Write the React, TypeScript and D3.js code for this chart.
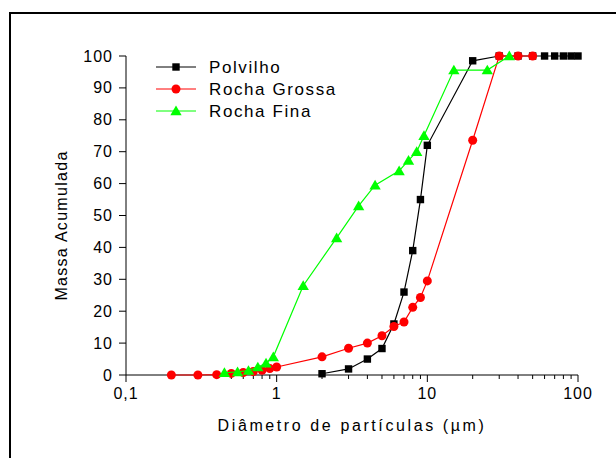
import React from "react";
import * as d3 from "d3";

// Cumulative mass (%) versus particle diameter (µm)
const polvilhoX = [2, 3, 4, 5, 6, 7, 8, 9, 10, 20, 30, 40, 50, 60, 70, 80, 90, 100];
const polvilhoY = [0.4, 1.9, 5, 8.3, 16, 26, 39, 55, 72, 98.5, 100, 100, 100, 100, 100, 100, 100, 100];

const grossaX = [0.2, 0.3, 0.4, 0.5, 0.6, 0.7, 0.8, 0.9, 1, 2, 3, 4, 5, 6, 7, 8, 9, 10, 20, 30, 40, 50];
const grossaY = [0, 0, 0.1, 0.5, 0.8, 1.1, 1.5, 2.0, 2.5, 5.7, 8.4, 10, 12.3, 15.2, 16.6, 21.2, 24.3, 29.5, 73.6, 100, 100, 100];

const finaX = [0.45, 0.55, 0.65, 0.75, 0.85, 0.95, 1.5, 2.5, 3.5, 4.5, 6.5, 7.5, 8.5, 9.5, 15, 25, 35];
const finaY = [0.7, 1.0, 1.4, 2.5, 3.7, 5.7, 28, 43, 53, 59.5, 64, 67.3, 70, 75, 95.6, 95.6, 100];

const xMajorTicks = [0.1, 1, 10, 100];
const xMajorLabels = ["0,1", "1", "10", "100"];
const yTicks = [0, 10, 20, 30, 40, 50, 60, 70, 80, 90, 100];

const seriesNames = ["Polvilho", "Rocha Grossa", "Rocha Fina"];
const seriesColors = ["#000000", "#ff0000", "#00ff00"];

const W = 616;
const H = 458;
const FONT = "'Liberation Sans', Arial, sans-serif";

type Pt = [number, number];

function Marker({ kind, x, y, color }: { kind: number; x: number; y: number; color: string }) {
  if (kind === 0) return <rect x={x - 3.7} y={y - 3.7} width={7.4} height={7.4} fill={color} />;
  if (kind === 1) return <circle cx={x} cy={y} r={4.5} fill={color} />;
  const s = 5.4;
  return <path d={`M${x},${y - s} L${x + s * 1.05},${y + s * 0.8} L${x - s * 1.05},${y + s * 0.8} Z`} fill={color} />;
}

export default function App() {
  const x = d3.scaleLog().domain([0.1, 100]).range([126, 578]);
  const y = d3.scaleLinear().domain([0, 100]).range([375, 56]);
  const line = d3.line<Pt>().x((d) => x(d[0])).y((d) => y(d[1]));

  const series: Pt[][] = [
    polvilhoX.map((v, i) => [v, polvilhoY[i]] as Pt),
    grossaX.map((v, i) => [v, grossaY[i]] as Pt),
    finaX.map((v, i) => [v, finaY[i]] as Pt),
  ];

  const minorTicks: number[] = [];
  for (const dec of [0.1, 1, 10]) for (let k = 2; k <= 9; k++) minorTicks.push(dec * k);

  const [y0, y1] = y.range();
  const [x0, x1] = x.range();

  return (
    <svg width={W} height={H} style={{ position: "absolute", left: 0, top: 0, background: "#fff" }}
      fontFamily={FONT}>
      <rect x={10} y={13} width={W + 10} height={H + 10} fill="none" stroke="#000" strokeWidth={2} />

      {/* axes */}
      <line x1={x0} x2={x1} y1={y0} y2={y0} stroke="#000" strokeWidth={1} />
      <line x1={x0} x2={x0} y1={y0} y2={y1} stroke="#000" strokeWidth={1} />
      {xMajorTicks.map((t, i) => (
        <g key={`xm${t}`}>
          <line x1={x(t)} x2={x(t)} y1={y0} y2={y0 + 7} stroke="#000" />
          <text x={x(t)} y={y0 + 24} fontSize={16} letterSpacing={1} textAnchor="middle">{xMajorLabels[i]}</text>
        </g>
      ))}
      {minorTicks.map((t) => (
        <line key={`xn${t}`} x1={x(t)} x2={x(t)} y1={y0} y2={y0 + 4} stroke="#000" />
      ))}
      {yTicks.map((t) => (
        <g key={`y${t}`}>
          <line x1={x0 - 7} x2={x0} y1={y(t)} y2={y(t)} stroke="#000" />
          <text x={x0 - 13} y={y(t) + 5.5} fontSize={16} letterSpacing={1} textAnchor="end">{t}</text>
        </g>
      ))}
      <text x={352} y={431} fontSize={16} textAnchor="middle" letterSpacing={2.6}>
        Diâmetro de partículas (µm)
      </text>
      <text transform={`translate(67,${(y0 + y1) / 2 + 10}) rotate(-90)`} fontSize={16} letterSpacing={1.3} textAnchor="middle">
        Massa Acumulada
      </text>

      {/* series */}
      {series.map((pts, si) => (
        <g key={`s${si}`}>
          <path d={line(pts) ?? ""} fill="none" stroke={seriesColors[si]} strokeWidth={1.2} />
          {pts.map((p, i) => (
            <Marker key={i} kind={si} x={x(p[0])} y={y(p[1])} color={seriesColors[si]} />
          ))}
        </g>
      ))}

      {/* legend */}
      {seriesNames.map((name, i) => {
        const ly = 67 + i * 22;
        return (
          <g key={name}>
            <line x1={156} x2={196} y1={ly} y2={ly} stroke={seriesColors[i]} strokeWidth={1} />
            <Marker kind={i} x={176} y={ly} color={seriesColors[i]} />
            <text x={209} y={ly + 6} fontSize={17} letterSpacing={1.6}>{name}</text>
          </g>
        );
      })}
    </svg>
  );
}
